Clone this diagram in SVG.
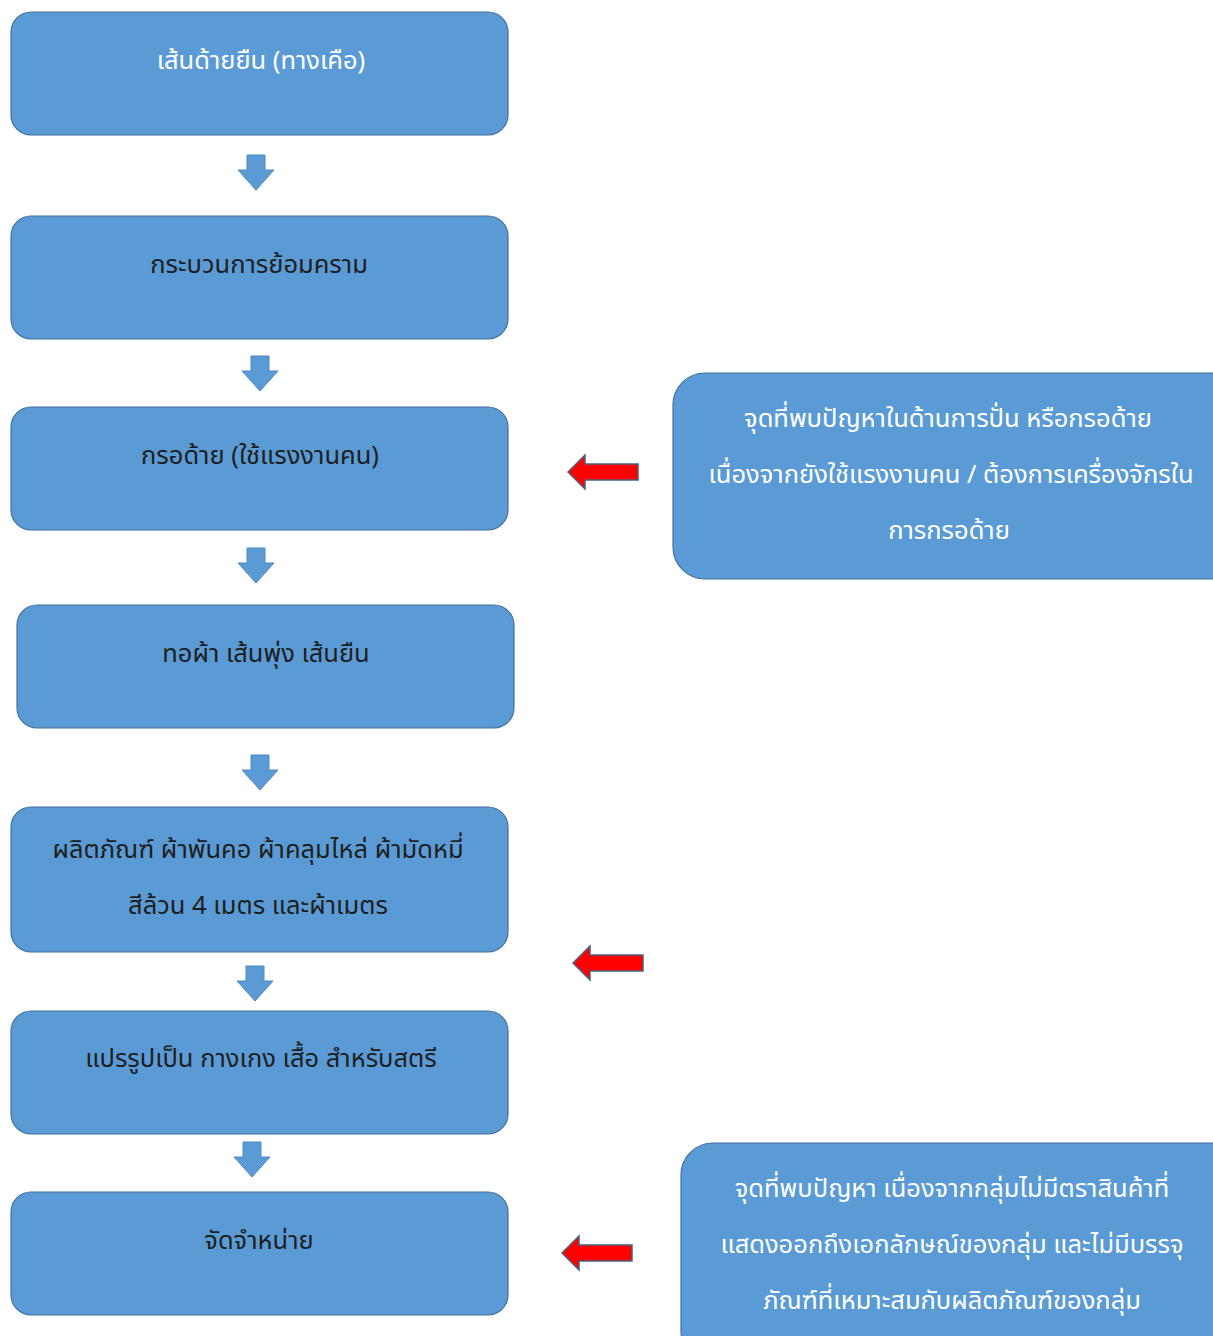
<svg xmlns="http://www.w3.org/2000/svg" width="1213" height="1336" viewBox="0 0 1213 1336">
<defs>
<style>
.box{fill:#5B9BD5;stroke:#41719C;stroke-width:1.2}
.t{font-family:"Noto Sans Thai","Noto Sans","DejaVu Sans",sans-serif;font-size:25.5px;text-anchor:middle}
.w{fill:#ffffff}
.d{fill:#1e1e1e}
.ba{fill:#5B9BD5;stroke:#4F88C0;stroke-width:1}
.ra{fill:#FF0000;stroke:#4A6280;stroke-width:1.5}
</style>
<path id="down" d="M-9,0 H9 V15 H18 L0,35 L-18,15 H-9 Z"/>
<path id="left" d="M0,0 L17,-17 V-8 H70 V8 H17 V17 Z"/>
</defs>
<rect width="1213" height="1336" fill="#ffffff"/>
<g id="node1"><rect class="box" x="11" y="12" width="497" height="123" rx="20"/><text class="t w" x="261" y="69">เส้นด้ายยืน (ทางเคือ)</text></g>
<g id="node2"><rect class="box" x="11" y="216" width="497" height="123" rx="20"/><text class="t d" x="259" y="273">กระบวนการย้อมคราม</text></g>
<g id="node3"><rect class="box" x="11" y="407" width="497" height="123" rx="20"/><text class="t d" x="260" y="464">กรอด้าย (ใช้แรงงานคน)</text></g>
<g id="node4"><rect class="box" x="17" y="605" width="497" height="123" rx="20"/><text class="t d" x="266" y="662">ทอผ้า เส้นพุ่ง เส้นยืน</text></g>
<g id="node5"><rect class="box" x="11" y="807" width="497" height="145" rx="20"/><text class="t d" x="258" y="858">ผลิตภัณฑ์ ผ้าพันคอ ผ้าคลุมไหล่ ผ้ามัดหมี่</text><text class="t d" x="258" y="914">สีล้วน 4 เมตร และผ้าเมตร</text></g>
<g id="node6"><rect class="box" x="11" y="1011" width="497" height="123" rx="20"/><text class="t d" x="261" y="1067">แปรรูปเป็น กางเกง เสื้อ  สำหรับสตรี</text></g>
<g id="node7"><rect class="box" x="11" y="1192" width="497" height="123" rx="20"/><text class="t d" x="259" y="1249">จัดจำหน่าย</text></g>
<g id="note1"><rect class="box" x="673" y="373" width="570" height="206" rx="32"/><text class="t w" x="948" y="427">จุดที่พบปัญหาในด้านการปั่น หรือกรอด้าย</text><text class="t w" x="951" y="483">เนื่องจากยังใช้แรงงานคน / ต้องการเครื่องจักรใน</text><text class="t w" x="949" y="539">การกรอด้าย</text></g>
<g id="note2"><rect class="box" x="681" y="1143" width="570" height="220" rx="32"/><text class="t w" x="952" y="1197">จุดที่พบปัญหา เนื่องจากกลุ่มไม่มีตราสินค้าที่</text><text class="t w" x="952" y="1253">แสดงออกถึงเอกลักษณ์ของกลุ่ม และไม่มีบรรจุ</text><text class="t w" x="952" y="1309">ภัณฑ์ที่เหมาะสมกับผลิตภัณฑ์ของกลุ่ม</text></g>
<g id="connectors">
<use href="#down" class="ba" x="256" y="155"/>
<use href="#down" class="ba" x="260" y="356"/>
<use href="#down" class="ba" x="256" y="548"/>
<use href="#down" class="ba" x="260" y="755"/>
<use href="#down" class="ba" x="255" y="966"/>
<use href="#down" class="ba" x="252" y="1142"/>
<use href="#left" class="ra" x="568" y="472"/>
<use href="#left" class="ra" x="573" y="963"/>
<use href="#left" class="ra" x="562" y="1253"/>
</g>
</svg>
